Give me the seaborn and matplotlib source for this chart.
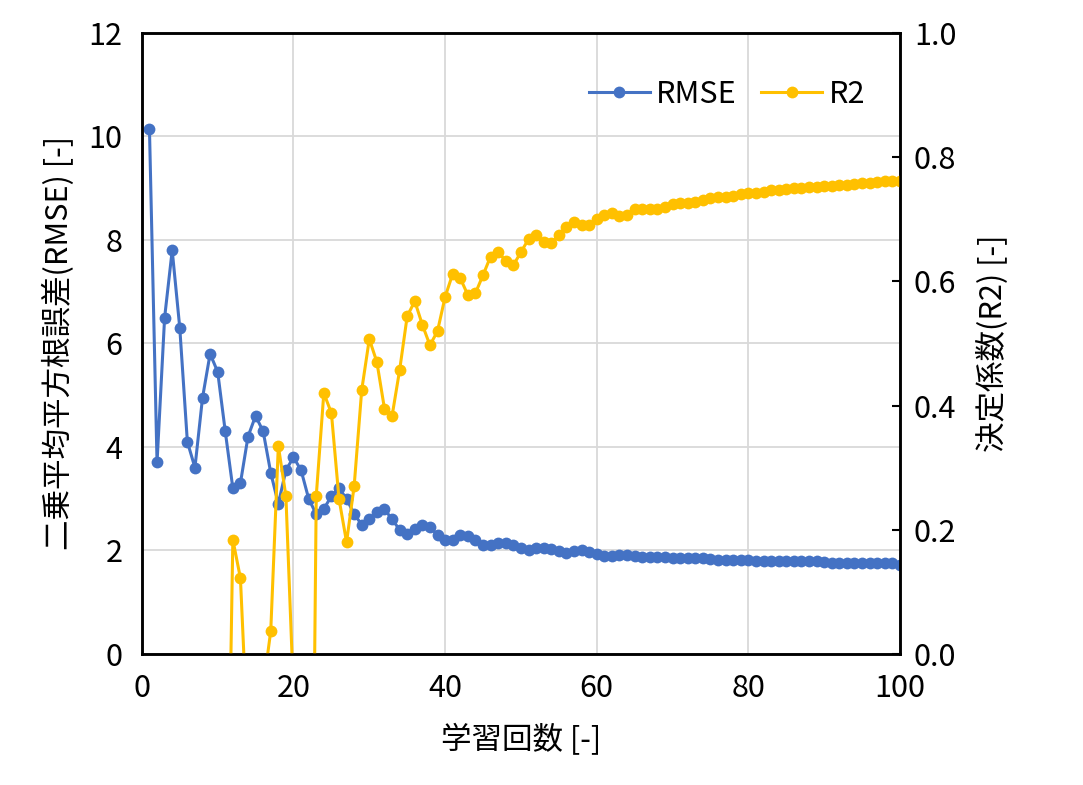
import matplotlib
matplotlib.use("Agg")
import matplotlib.pyplot as plt
import seaborn as sns
import numpy as np
import pandas as pd

plt.rcParams["font.family"] = ["Noto Sans CJK JP", "DejaVu Sans"]

epochs = list(range(1, 101))
rmse = [10.15, 3.7, 6.5, 7.8, 6.3, 4.1, 3.6, 4.95, 5.8, 5.45,
        4.3, 3.2, 3.3, 4.2, 4.6, 4.3, 3.5, 2.9, 3.55, 3.8,
        3.55, 3.0, 2.7, 2.8, 3.05, 3.2, 3.0, 2.7, 2.5, 2.6,
        2.75, 2.8, 2.6, 2.4, 2.32, 2.42, 2.5, 2.45, 2.3, 2.2,
        2.2, 2.3, 2.28, 2.2, 2.1, 2.1, 2.15, 2.15, 2.1, 2.05,
        2.0, 2.05, 2.05, 2.02, 1.98, 1.95, 1.98, 2.0, 1.97, 1.93,
        1.9, 1.9, 1.91, 1.91, 1.9, 1.88, 1.88, 1.88, 1.88, 1.86,
        1.85, 1.85, 1.85, 1.85, 1.84, 1.82, 1.82, 1.82, 1.82, 1.82,
        1.8, 1.8, 1.8, 1.8, 1.8, 1.79, 1.79, 1.79, 1.79, 1.77,
        1.76, 1.76, 1.76, 1.76, 1.76, 1.76, 1.75, 1.75, 1.75, 1.72]
r2 = [-3.0, -2.5, -2.0, -1.8, -1.5, -1.2, -1.0, -0.9, -0.8, -0.7,
      -0.55, 0.184, 0.122, -0.15, -0.3, -0.055, 0.037, 0.335, 0.254, -0.064,
      -0.8, -1.0, 0.254, 0.42, 0.388, 0.25, 0.18, 0.27, 0.425, 0.507,
      0.47, 0.395, 0.383, 0.457, 0.544, 0.568, 0.53, 0.497, 0.52, 0.575,
      0.612, 0.605, 0.578, 0.581, 0.61, 0.64, 0.647, 0.633, 0.626, 0.647,
      0.668, 0.675, 0.663, 0.662, 0.675, 0.688, 0.696, 0.69, 0.69, 0.70,
      0.707, 0.71, 0.705, 0.707, 0.717, 0.717, 0.717, 0.717, 0.72, 0.724,
      0.726, 0.726, 0.728, 0.731, 0.734, 0.736, 0.736, 0.738, 0.74, 0.742,
      0.742, 0.744, 0.747, 0.747, 0.748, 0.75, 0.75, 0.752, 0.752, 0.753,
      0.753, 0.755, 0.755, 0.756, 0.758, 0.758, 0.76, 0.762, 0.762, 0.762]

df = pd.DataFrame({"epoch": epochs, "RMSE": rmse, "R2": r2})
blue = "#4472C4"
gold = "#FFC000"
fs = 22

fig = plt.figure(figsize=(10.83, 7.85), dpi=100)
ax = fig.add_axes([0.131, 0.167, 0.70, 0.791])
ax2 = ax.twinx()

sns.lineplot(data=df, x="epoch", y="RMSE", ax=ax, color=blue, marker="o",
             markersize=8.5, markeredgewidth=0, linewidth=2.2, label="RMSE", legend=False)
sns.lineplot(data=df, x="epoch", y="R2", ax=ax2, color=gold, marker="o",
             markersize=8.5, markeredgewidth=0, linewidth=2.2, label="R2", legend=False)

ax.set_xlim(0, 100)
ax.set_ylim(0, 12)
ax2.set_ylim(0, 1.0)
ax.set_xticks(range(0, 101, 20))
ax.set_yticks(range(0, 13, 2))
ax2.set_yticks(np.arange(0, 1.01, 0.2))
ax2.set_yticklabels([f"{v:.1f}" for v in np.arange(0, 1.01, 0.2)])
ax.grid(True, color="#d9d9d9", linewidth=1.3)
ax.set_axisbelow(True)
for a in (ax, ax2):
    for s in a.spines.values():
        s.set_linewidth(1.8)
ax.tick_params(axis="both", labelsize=fs, length=0, pad=14)
ax2.tick_params(axis="y", direction="in", labelsize=fs, length=6, width=1.5, pad=10)

ax.set_xlabel("学習回数 [-]", fontsize=fs, labelpad=14)
ax.set_ylabel("二乗平均平方根誤差(RMSE) [-]", fontsize=fs, labelpad=10)
ax2.set_ylabel("決定係数(R2) [-]", fontsize=fs, labelpad=14)

h1, l1 = ax.get_legend_handles_labels()
h2, l2 = ax2.get_legend_handles_labels()
ax2.legend(h1 + h2, l1 + l2, loc="upper right", ncol=2, fontsize=fs,
           frameon=False, handlelength=2.0, columnspacing=0.8, handletextpad=0.2,
           bbox_to_anchor=(0.99, 0.97))

fig.savefig("out.png", dpi=100)
